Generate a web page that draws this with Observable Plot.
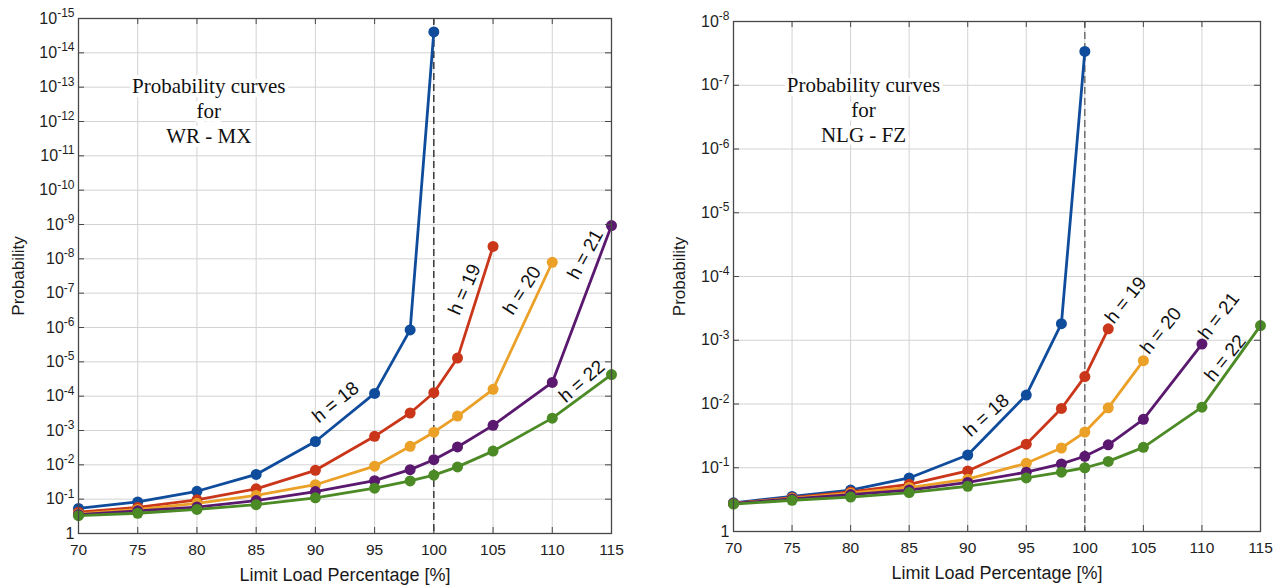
<!DOCTYPE html>
<html><head><meta charset="utf-8">
<script src="https://cdn.jsdelivr.net/npm/d3@7"></script>
<script src="https://cdn.jsdelivr.net/npm/@observablehq/plot@0.6"></script>
<style>
body{margin:0;background:#fff;}
#wrap{display:flex;width:1287px;height:588px;overflow:hidden;}
#wrap svg{display:block;overflow:visible;}
</style></head><body><div id="wrap"></div>
<script>
// x positions (Limit Load Percentage [%])
const loads = [70, 75, 80, 85, 90, 95, 98, 100, 102, 105, 110, 115];
const seriesNames = ["h = 18", "h = 19", "h = 20", "h = 21", "h = 22"];
const xTickValues = [70, 75, 80, 85, 90, 95, 100, 105, 110, 115];

// Values are exponents k of the plotted probability 10^-k
// Left panel: WR - MX
const wrH18 = [0.73, 0.92, 1.23, 1.72, 2.68, 4.08, 5.93, 14.61];
const wrH19 = [0.62, 0.76, 0.98, 1.30, 1.84, 2.83, 3.51, 4.10, 5.11, 8.36];
const wrH20 = [0.57, 0.70, 0.88, 1.11, 1.42, 1.96, 2.54, 2.95, 3.42, 4.20, 7.90];
const wrH21 = [0.55, 0.66, 0.77, 0.96, 1.22, 1.54, 1.86, 2.15, 2.52, 3.15, 4.40, 8.97];
const wrH22 = [0.52, 0.59, 0.70, 0.84, 1.04, 1.32, 1.53, 1.70, 1.94, 2.40, 3.36, 4.63];
const wrMaxExp = 15;

// Right panel: NLG - FZ
const nlgH18 = [0.45, 0.55, 0.65, 0.84, 1.20, 2.14, 3.26, 7.53];
const nlgH19 = [0.44, 0.53, 0.62, 0.74, 0.95, 1.37, 1.93, 2.43, 3.18];
const nlgH20 = [0.44, 0.52, 0.60, 0.69, 0.82, 1.07, 1.31, 1.56, 1.94, 2.68];
const nlgH21 = [0.44, 0.51, 0.58, 0.65, 0.77, 0.93, 1.06, 1.18, 1.36, 1.76, 2.94];
const nlgH22 = [0.43, 0.49, 0.54, 0.61, 0.71, 0.84, 0.93, 1.00, 1.10, 1.32, 1.95, 3.23];
const nlgMaxExp = 8;

// curve labels (data coordinates: load, exponent, angle)
const wrLabelLoad = [91.7, 102.6, 107.45, 112.8, 112.5];
const wrLabelExp = [3.82, 7.11, 7.08, 8.13, 4.43];
const wrLabelAngle = [-39, -66, -57, -61, -41];
const nlgLabelLoad = [91.6, 103.5, 106.5, 111.45, 112.0];
const nlgLabelExp = [1.82, 3.63, 3.15, 3.38, 2.72];
const nlgLabelAngle = [-42, -51, -51, -52, -51];

const wrTitle = "Probability curves\nfor\nWR - MX";
const nlgTitle = "Probability curves\nfor\nNLG - FZ";
const wrTitleAt = [81.0, 12.33];
const nlgTitleAt = [81.1, 6.63];

const seriesColors = ["#0f4c9c", "#ca3619", "#eba027", "#5a196e", "#4c8a25"];

function panel(cfg) {
  const rows = [];
  cfg.series.forEach((vals, i) => vals.forEach((k, j) => rows.push({h: seriesNames[i], load: loads[j], p: Math.pow(10, -k)})));
  const yTicks = d3.range(0, cfg.maxExp + 1).map(k => Math.pow(10, -k));
  const H = 588;
  const fw = cfg.width - cfg.ml - cfg.mr, fh = H - cfg.mt - cfg.mb;
  const lab = cfg.labelLoad.map((x, i) => ({x, p: Math.pow(10, -cfg.labelExp[i]), a: cfg.labelAngle[i], t: seriesNames[i]}));
  const fmt = d => { const k = Math.round(-Math.log10(d)); return k === 0 ? "1" : "10^-" + k; };
  const axisColor = "#474747";
  const svg = Plot.plot({
    width: cfg.width, height: H,
    marginLeft: cfg.ml, marginRight: cfg.mr, marginTop: cfg.mt, marginBottom: cfg.mb,
    style: {fontFamily: "'Liberation Sans', Arial, sans-serif", fontSize: "15px", color: "#1e1e1e", background: "white", overflow: "visible"},
    x: {domain: [70, 115]},
    y: {type: "log", domain: [1, Math.pow(10, -cfg.maxExp)]},
    color: {domain: seriesNames, range: seriesColors},
    marks: [
      Plot.gridX(xTickValues, {stroke: "#d3d3d3", strokeOpacity: 1}),
      Plot.gridY(yTicks, {stroke: "#d3d3d3", strokeOpacity: 1}),
      Plot.text([cfg.title], {x: cfg.titleAt[0], y: Math.pow(10, -cfg.titleAt[1]), fontFamily: "'Liberation Serif', 'Times New Roman', serif", fontSize: 21, lineHeight: 1.18, fill: "#111", stroke: "white", strokeWidth: 8, paintOrder: "stroke"}),
      Plot.ruleX([100], {stroke: cfg.dashColor, strokeDasharray: "7,4", strokeWidth: 1.2}),
      Plot.line(rows, {x: "load", y: "p", z: "h", stroke: "h", strokeWidth: 2.8}),
      Plot.dot(rows, {x: "load", y: "p", fill: "h", r: 5.5}),
      Plot.text(lab, {x: "x", y: "p", text: "t", rotate: "a", fontSize: 19, fill: "#111"}),
      Plot.tickX(xTickValues, {x: d => d, insetBottom: fh - 6, stroke: axisColor}),
      Plot.tickX(xTickValues, {x: d => d, insetTop: fh - 6, stroke: axisColor}),
      Plot.tickY(yTicks, {y: d => d, insetRight: fw - 6, stroke: axisColor}),
      Plot.tickY(yTicks, {y: d => d, insetLeft: fw - 6, stroke: axisColor}),
      Plot.frame({stroke: axisColor, strokeWidth: 1.3}),
      Plot.axisX(xTickValues, {tickSize: 0, tickPadding: 10, label: null, fontSize: 15.5}),
      Plot.axisY(yTicks, {tickSize: 0, tickPadding: 4, tickFormat: fmt, label: null, fontSize: 16}),
      Plot.text(["Limit Load Percentage [%]"], {frameAnchor: "bottom", lineAnchor: "middle", textAnchor: "middle", dy: 42, fontSize: 18, fill: "#1a1a1a"}),
      Plot.text(["Probability"], {frameAnchor: "left", lineAnchor: "middle", textAnchor: "middle", dx: -cfg.yLabelOffset, rotate: -90, fontSize: 17, fill: "#1a1a1a"})
    ]
  });
  svg.querySelectorAll("text").forEach(t => {
    const m = t.textContent.match(/^10\^(-\d+)$/);
    if (m) {
      t.textContent = "10";
      const ts = document.createElementNS("http://www.w3.org/2000/svg", "tspan");
      ts.setAttribute("dy", "-0.55em");
      ts.setAttribute("font-size", "12");
      ts.textContent = m[1];
      t.appendChild(ts);
    }
  });
  return svg;
}

const wrap = document.getElementById("wrap");
wrap.appendChild(panel({
  width: 645, ml: 78, mr: 34, mt: 18, mb: 55, maxExp: wrMaxExp,
  series: [wrH18, wrH19, wrH20, wrH21, wrH22],
  labelLoad: wrLabelLoad, labelExp: wrLabelExp, labelAngle: wrLabelAngle,
  title: wrTitle, titleAt: wrTitleAt, dashColor: "#111", yLabelOffset: 60
}));
wrap.appendChild(panel({
  width: 642, ml: 88, mr: 27, mt: 21, mb: 57, maxExp: nlgMaxExp,
  series: [nlgH18, nlgH19, nlgH20, nlgH21, nlgH22],
  labelLoad: nlgLabelLoad, labelExp: nlgLabelExp, labelAngle: nlgLabelAngle,
  title: nlgTitle, titleAt: nlgTitleAt, dashColor: "#555", yLabelOffset: 54
}));
</script></body></html>
